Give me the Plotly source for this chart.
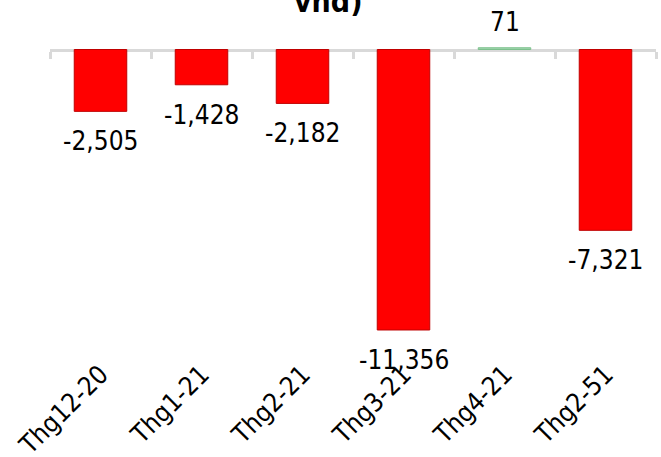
import plotly.graph_objects as go

# Monthly net values (tỷ vnd)
months = ["Thg12-20", "Thg1-21", "Thg2-21", "Thg3-21", "Thg4-21", "Thg2-51"]
net_values = [-2505, -1428, -2182, -11356, 71, -7321]

RED = "#ff0000"
RED_EDGE = "#c00000"
GREEN = "#9fd6ae"
GREEN_EDGE = "#7cc08c"
AXIS_GREY = "#d9d9d9"
FONT = "DejaVu Sans Condensed, DejaVu Sans, sans-serif"

bar_colors = [GREEN if v >= 0 else RED for v in net_values]
edge_colors = [GREEN_EDGE if v >= 0 else RED_EDGE for v in net_values]

# vertical scale: pixels per unit and where zero sits inside a plot area starting at the top
HEIGHT = 457
MARGIN_B = 104
PX_PER_UNIT = 0.0247
ZERO_PX = 49.5
plot_h = HEIGHT - MARGIN_B
y_max = ZERO_PX / PX_PER_UNIT
y_min = -(plot_h - ZERO_PX) / PX_PER_UNIT
zero_pos = (0 - y_min) / (y_max - y_min)

fig = go.Figure()

fig.add_trace(go.Bar(
    x=months, y=net_values,
    width=0.52,
    marker=dict(color=bar_colors, line=dict(color=edge_colors, width=1)),
    showlegend=False, hoverinfo="x+y",
))

# empty trace that carries the zero axis with boundary ticks
fig.add_trace(go.Bar(
    x=months, y=[None] * len(months), xaxis="x2",
    showlegend=False, hoverinfo="skip",
))

annotations = []
for m, v in zip(months, net_values):
    annotations.append(dict(
        x=m, y=v, xref="x", yref="y",
        text=f"{v:,}", showarrow=False,
        yanchor="bottom" if v >= 0 else "top",
        yshift=9 if v >= 0 else -13,
        font=dict(family=FONT, size=26, color="#000000"),
    ))

annotations.append(dict(
    x=0.459, y=1, xref="paper", yref="paper",
    text="<b>vnd)</b>", showarrow=False,
    xanchor="center", yanchor="bottom", yshift=-21,
    font=dict(family=FONT, size=30, color="#000000"),
))

fig.update_layout(
    width=661, height=HEIGHT,
    margin=dict(l=50, r=5, t=0, b=MARGIN_B),
    paper_bgcolor="white", plot_bgcolor="white",
    font=dict(family=FONT, size=26, color="#000000"),
    bargap=0.48,
    xaxis=dict(
        type="category", categoryorder="array", categoryarray=months,
        range=[-0.5, len(months) - 0.5],
        showline=False, showgrid=False, zeroline=False, ticks="",
        tickangle=-45, tickfont=dict(family=FONT, size=26, color="#000000"),
        automargin=False,
    ),
    xaxis2=dict(
        type="category", categoryorder="array", categoryarray=months,
        range=[-0.5, len(months) - 0.5],
        overlaying="x", anchor="free", position=zero_pos,
        showline=True, linecolor=AXIS_GREY, linewidth=3,
        ticks="outside", tickson="boundaries", ticklen=7,
        tickcolor=AXIS_GREY, tickwidth=3,
        showticklabels=False, showgrid=False, zeroline=False,
        layer="below traces",
    ),
    yaxis=dict(
        range=[y_min, y_max], visible=False,
        showgrid=False, zeroline=False,
    ),
    annotations=annotations,
)

fig.write_html("out.html")
